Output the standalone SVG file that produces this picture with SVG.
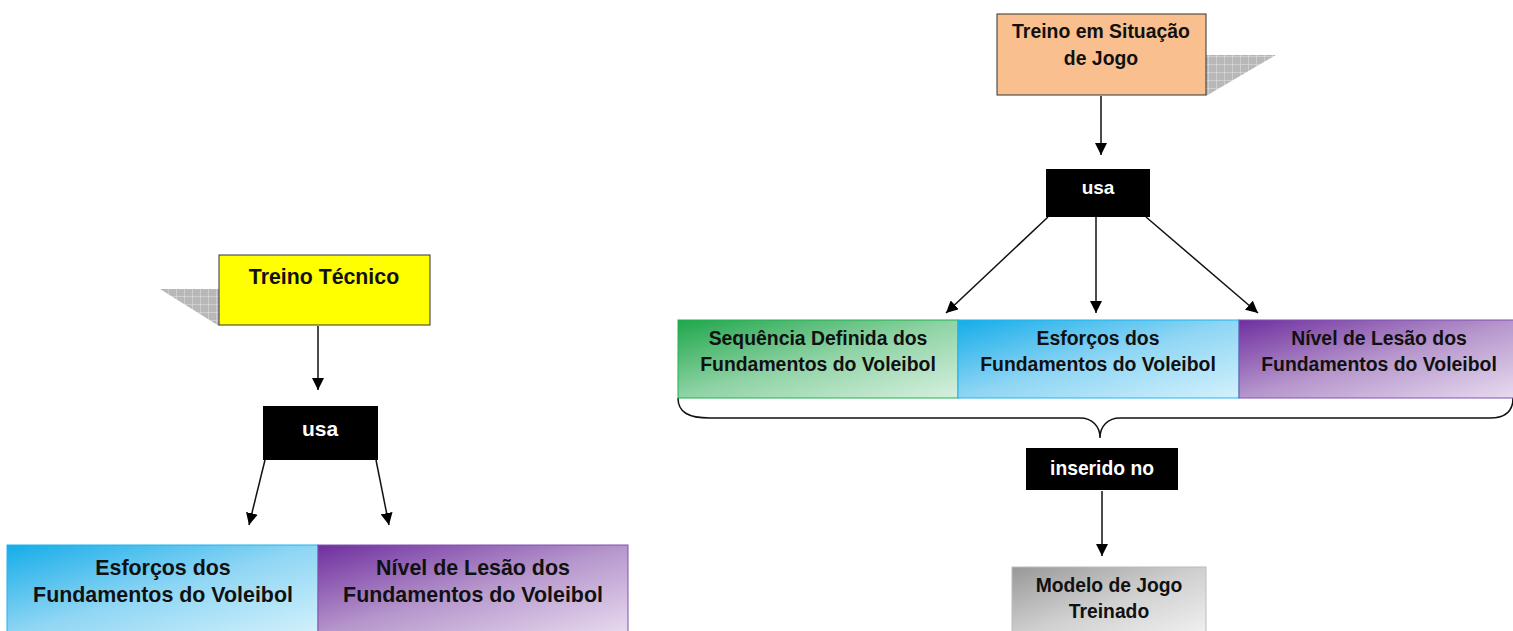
<svg xmlns="http://www.w3.org/2000/svg" width="1513" height="631" viewBox="0 0 1513 631">
<defs>
<style>
.t{font-family:"Liberation Sans",Arial,sans-serif;font-weight:bold;text-anchor:middle;fill:#111}
.w{fill:#fff}
.ln{stroke:#111;stroke-width:1.5;fill:none}
.blk{fill:#000}
</style>
<pattern id="grid" width="8" height="8" patternUnits="userSpaceOnUse">
<rect width="8" height="8" fill="#b8b8b8"/>
<path d="M0 0H8M0 0V8" stroke="#e4e4e4" stroke-width="1"/>
</pattern>
<marker id="ah" viewBox="0 0 10 10" refX="10" refY="5" markerWidth="12" markerHeight="12" markerUnits="userSpaceOnUse" orient="auto">
<path d="M0 0L10 5L0 10z" fill="#000"/>
</marker>
<linearGradient id="gGreen" x1="0" y1="0" x2="1" y2="1"><stop offset="0" stop-color="#1fa64b"/><stop offset="0.5" stop-color="#8fd3a5"/><stop offset="1" stop-color="#d6f0df"/></linearGradient>
<linearGradient id="gBlue" x1="0" y1="0" x2="1" y2="1"><stop offset="0" stop-color="#15ace9"/><stop offset="0.5" stop-color="#8fd6f4"/><stop offset="1" stop-color="#d3f1fc"/></linearGradient>
<linearGradient id="gPurple" x1="0" y1="0" x2="1" y2="1"><stop offset="0" stop-color="#6f2f9f"/><stop offset="0.5" stop-color="#b696cc"/><stop offset="1" stop-color="#e8dcf0"/></linearGradient>
<linearGradient id="gGray" x1="0" y1="0" x2="1" y2="1"><stop offset="0" stop-color="#989898"/><stop offset="0.5" stop-color="#cfcfcf"/><stop offset="1" stop-color="#f2f2f2"/></linearGradient>
</defs>
<rect width="1513" height="631" fill="#fff"/>

<g id="connectors">
<line class="ln" x1="318" y1="326" x2="318" y2="390" marker-end="url(#ah)"/>
<line class="ln" x1="265" y1="460" x2="249" y2="525" marker-end="url(#ah)"/>
<line class="ln" x1="376" y1="460" x2="389" y2="525" marker-end="url(#ah)"/>
<line class="ln" x1="1101" y1="96" x2="1101" y2="155" marker-end="url(#ah)"/>
<line class="ln" x1="1048" y1="217" x2="946" y2="313" marker-end="url(#ah)"/>
<line class="ln" x1="1096" y1="217" x2="1096" y2="313" marker-end="url(#ah)"/>
<line class="ln" x1="1146" y1="217" x2="1258" y2="313" marker-end="url(#ah)"/>
<path class="ln" d="M678 398 C678 412 688 418 710 418 L1080 418 C1092 418 1100 426 1100 438 C1100 426 1108 418 1120 418 L1490 418 C1505 418 1513 412 1513 398"/>
<line class="ln" x1="1102" y1="491" x2="1102" y2="556" marker-end="url(#ah)"/>
</g>

<g id="treino-tecnico">
<polygon points="160,289 219,289 219,326" fill="url(#grid)"/>
<rect x="219" y="255" width="211" height="70" fill="#ffff00" stroke="#333" stroke-width="1"/>
<text class="t" x="324" y="284" font-size="21.3">Treino Técnico</text>
</g>

<g id="usa-left">
<rect class="blk" x="263" y="406" width="115" height="54"/>
<text class="t w" x="320" y="436" font-size="21">usa</text>
</g>

<g id="esforcos-left">
<rect x="7" y="545" width="311" height="90" fill="url(#gBlue)" stroke="#1fb4ec" stroke-width="1"/>
<text class="t" x="163" y="575" font-size="21.4">Esforços dos</text>
<text class="t" x="163" y="602" font-size="21.4">Fundamentos do Voleibol</text>
</g>

<g id="lesao-left">
<rect x="318" y="545" width="310" height="90" fill="url(#gPurple)" stroke="#8050b0" stroke-width="1"/>
<text class="t" x="473" y="575" font-size="21.4">Nível de Lesão dos</text>
<text class="t" x="473" y="602" font-size="21.4">Fundamentos do Voleibol</text>
</g>

<g id="treino-jogo">
<polygon points="1206,55 1276,55 1206,96" fill="url(#grid)"/>
<rect x="997" y="14" width="209" height="81" fill="#f9bf8f" stroke="#333" stroke-width="1"/>
<text class="t" x="1101" y="38" font-size="19.4">Treino em Situação</text>
<text class="t" x="1101" y="65" font-size="19.4">de Jogo</text>
</g>

<g id="usa-right">
<rect class="blk" x="1046" y="169" width="104" height="48"/>
<text class="t w" x="1098" y="194" font-size="19">usa</text>
</g>

<g id="sequencia">
<rect x="678" y="320" width="280" height="78" fill="url(#gGreen)" stroke="#22b050" stroke-width="1"/>
<text class="t" x="818" y="345" font-size="19.4">Sequência Definida dos</text>
<text class="t" x="818" y="371" font-size="19.4">Fundamentos do Voleibol</text>
</g>

<g id="esforcos-right">
<rect x="958" y="320" width="281" height="78" fill="url(#gBlue)" stroke="#1fb4ec" stroke-width="1"/>
<text class="t" x="1098" y="345" font-size="19.4">Esforços dos</text>
<text class="t" x="1098" y="371" font-size="19.4">Fundamentos do Voleibol</text>
</g>

<g id="lesao-right">
<rect x="1239" y="320" width="280" height="78" fill="url(#gPurple)" stroke="#8050b0" stroke-width="1"/>
<text class="t" x="1379" y="345" font-size="19.4">Nível de Lesão dos</text>
<text class="t" x="1379" y="371" font-size="19.4">Fundamentos do Voleibol</text>
</g>

<g id="inserido">
<rect class="blk" x="1026" y="448" width="152" height="42"/>
<text class="t w" x="1102" y="475" font-size="19.3">inserido no</text>
</g>

<g id="modelo">
<rect x="1012" y="567" width="194" height="70" fill="url(#gGray)" stroke="#bbb" stroke-width="1"/>
<text class="t" x="1109" y="592" font-size="19.3">Modelo de Jogo</text>
<text class="t" x="1109" y="618" font-size="19.3">Treinado</text>
</g>
</svg>
